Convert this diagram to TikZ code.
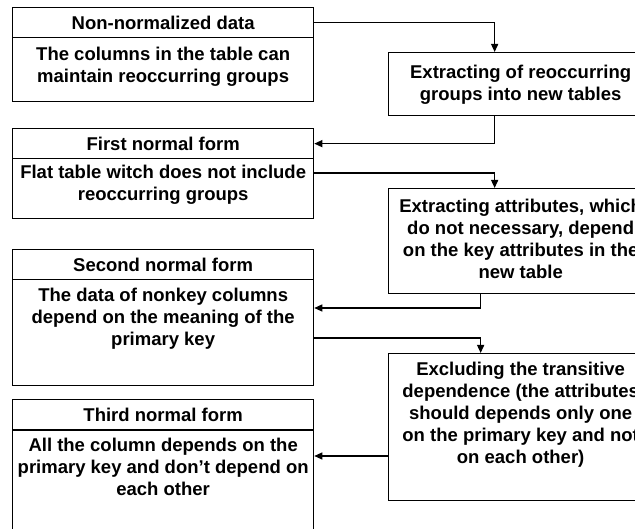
\documentclass[tikz,border=0pt]{standalone}
\usepackage{fontspec}
\setmainfont{Liberation Sans}
\usetikzlibrary{arrows.meta}
\tikzset{
  base/.style={draw=black, line width=1.3pt, inner sep=0pt, anchor=north west},
  txt/.style={inner sep=0pt, align=center, font=\fontsize{18.5}{22}\selectfont\bfseries},
  hdr/.style={base, txt, anchor=north west, minimum width=301pt, minimum height=30pt},
  arr/.style={line width=1.3pt, -{Triangle[length=8pt,width=7pt]}},
  ln/.style={line width=1.3pt}
}
\begin{document}
\begin{tikzpicture}[x=1pt,y=-1pt]
\useasboundingbox (0,0) rectangle (635,529);
\fill[white] (0,0) rectangle (635,529);
\clip (0,0) rectangle (635,529);
% left column
\node[hdr] (h1) at (12,7) {Non-normalized data};
\node[base, minimum width=301pt, minimum height=64pt] (b1) at (12,37) {};
\node[txt, anchor=north] (t1) at ([yshift=-10pt]b1.north) {The columns in the table can\\maintain reoccurring groups};

\node[hdr] (h3) at (12,128) {First normal form};
\node[base, minimum width=301pt, minimum height=60pt] (b3) at (12,158) {};
\node[txt, anchor=north] (t3) at ([yshift=-7pt]b3.north) {Flat table witch does not include\\reoccurring groups};

\node[hdr] (h5) at (12,249) {Second normal form};
\node[base, minimum width=301pt, minimum height=106pt] (b5) at (12,279) {};
\node[txt, anchor=north] (t5) at ([yshift=-9pt]b5.north) {The data of nonkey columns\\depend on the meaning of the\\primary key};

\node[hdr] (h7) at (12,399) {Third normal form};
\node[base, minimum width=301pt, minimum height=140pt] (b7) at (12,430) {};
\node[txt, anchor=north] (t7) at ([yshift=-8pt]b7.north) {All the column depends on the\\primary key and don’t depend on\\each other};

% right column
\node[base, minimum width=264pt, minimum height=63pt] (e1) at (388,52) {};
\node[txt, anchor=north] (u1) at ([yshift=-13pt]e1.north) {Extracting of reoccurring\\groups into new tables};

\node[base, minimum width=264pt, minimum height=105pt] (e2) at (388,188) {};
\node[txt, anchor=north] (u2) at ([yshift=-11pt]e2.north) {Extracting attributes, which\\do not necessary, depend\\on the key attributes in the\\new table};

\node[base, minimum width=264pt, minimum height=147pt] (e3) at (388,353) {};
\node[txt, anchor=north] (u3) at ([yshift=-9pt]e3.north) {Excluding the transitive\\dependence (the attributes\\should depends only one\\on the primary key and not\\on each other)};

% connectors
\draw[arr] (h1.east) -| ([xshift=-26pt]e1.north);
\draw[arr] ([xshift=-26pt]e1.south) |- (h3.east);
\draw[arr] ([yshift=-15pt]b3.north east) -| ([xshift=-26pt]e2.north);
\draw[arr] ([xshift=-40pt]e2.south) |- ([yshift=-29pt]b5.north east);
\draw[arr] ([yshift=-59pt]b5.north east) -| ([xshift=-40pt]e3.north);
\draw[arr] ([yshift=-103pt]e3.north west) -- ([yshift=-26pt]b7.north east);
\end{tikzpicture}
\end{document}
